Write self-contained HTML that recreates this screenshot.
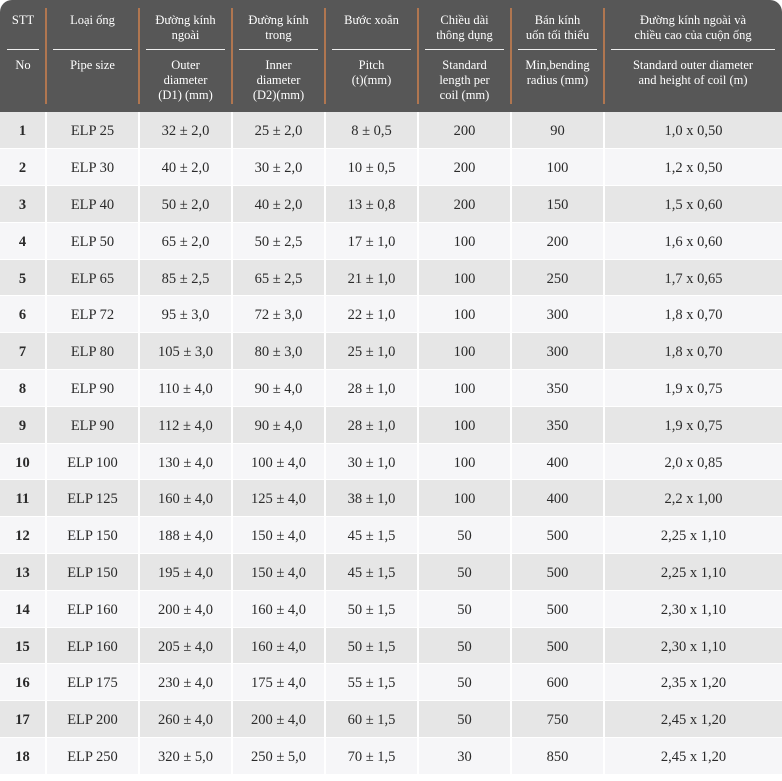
<!DOCTYPE html>
<html><head><meta charset="utf-8"><style>
body{margin:0;background:#fff;width:782px;height:781px;overflow:hidden;font-family:"Liberation Serif",serif;}
.hd{position:absolute;left:0;top:0;width:782px;height:112px;background:#575757;border-radius:12px 12px 0 0;}
.hc{position:absolute;top:0;height:112px;color:#fff;font-size:12.5px;line-height:15px;text-align:center;}
.hc .a{position:absolute;left:0;right:0;top:13px;}
.hc .b{position:absolute;left:0;right:0;top:58px;}
.hc .ln{position:absolute;left:7px;right:7px;top:49px;height:1px;background:#eee;}
.vs{position:absolute;top:8px;width:2px;height:96px;background:#b07650;}
table{position:absolute;left:0;top:112px;border-collapse:collapse;table-layout:fixed;width:782px;}
tr{height:36.8px;}
td{height:35.8px;padding:2px 0 0 0;line-height:16px;text-align:center;font-size:14.5px;color:#2a2a2a;border-right:2px solid #fff;border-bottom:1px solid #fff;box-sizing:border-box;}
td:first-child{font-weight:bold;}
tr:nth-child(odd) td{background:#e6e6e6;}
tr:nth-child(even) td{background:#f6f6f8;}
td:last-child{border-right:0;}
</style></head><body>
<div class="hd"></div>
<div class="hc" style="left:0;width:46px"><div class="a">STT</div><div class="ln"></div><div class="b">No</div></div>
<div class="hc" style="left:46px;width:93px"><div class="a">Loại ống</div><div class="ln"></div><div class="b">Pipe size</div></div>
<div class="hc" style="left:139px;width:93px"><div class="a">Đường kính<br>ngoài</div><div class="ln"></div><div class="b">Outer<br>diameter<br>(D1) (mm)</div></div>
<div class="hc" style="left:232px;width:93px"><div class="a">Đường kính<br>trong</div><div class="ln"></div><div class="b">Inner<br>diameter<br>(D2)(mm)</div></div>
<div class="hc" style="left:325px;width:93px"><div class="a">Bước xoắn</div><div class="ln"></div><div class="b">Pitch<br>(t)(mm)</div></div>
<div class="hc" style="left:418px;width:93px"><div class="a">Chiều dài<br>thông dụng</div><div class="ln"></div><div class="b">Standard<br>length per<br>coil (mm)</div></div>
<div class="hc" style="left:511px;width:93px"><div class="a">Bán kính<br>uốn tối thiểu</div><div class="ln"></div><div class="b">Min,bending<br>radius (mm)</div></div>
<div class="hc" style="left:604px;width:178px"><div class="a">Đường kính ngoài và<br>chiều cao của cuộn ống</div><div class="ln"></div><div class="b">Standard outer diameter<br>and height of coil (m)</div></div>
<div class="vs" style="left:45px"></div><div class="vs" style="left:138px"></div><div class="vs" style="left:231px"></div><div class="vs" style="left:324px"></div><div class="vs" style="left:417px"></div><div class="vs" style="left:510px"></div><div class="vs" style="left:603px"></div>
<table>
<colgroup><col style="width:46px"><col style="width:93px"><col style="width:93px"><col style="width:93px"><col style="width:93px"><col style="width:93px"><col style="width:93px"><col style="width:178px"></colgroup>
<tr><td>1</td><td>ELP 25</td><td>32 ± 2,0</td><td>25 ± 2,0</td><td>8 ± 0,5</td><td>200</td><td>90</td><td>1,0 x 0,50</td></tr>
<tr><td>2</td><td>ELP 30</td><td>40 ± 2,0</td><td>30 ± 2,0</td><td>10 ± 0,5</td><td>200</td><td>100</td><td>1,2 x 0,50</td></tr>
<tr><td>3</td><td>ELP 40</td><td>50 ± 2,0</td><td>40 ± 2,0</td><td>13 ± 0,8</td><td>200</td><td>150</td><td>1,5 x 0,60</td></tr>
<tr><td>4</td><td>ELP 50</td><td>65 ± 2,0</td><td>50 ± 2,5</td><td>17 ± 1,0</td><td>100</td><td>200</td><td>1,6 x 0,60</td></tr>
<tr><td>5</td><td>ELP 65</td><td>85 ± 2,5</td><td>65 ± 2,5</td><td>21 ± 1,0</td><td>100</td><td>250</td><td>1,7 x 0,65</td></tr>
<tr><td>6</td><td>ELP 72</td><td>95 ± 3,0</td><td>72 ± 3,0</td><td>22 ± 1,0</td><td>100</td><td>300</td><td>1,8 x 0,70</td></tr>
<tr><td>7</td><td>ELP 80</td><td>105 ± 3,0</td><td>80 ± 3,0</td><td>25 ± 1,0</td><td>100</td><td>300</td><td>1,8 x 0,70</td></tr>
<tr><td>8</td><td>ELP 90</td><td>110 ± 4,0</td><td>90 ± 4,0</td><td>28 ± 1,0</td><td>100</td><td>350</td><td>1,9 x 0,75</td></tr>
<tr><td>9</td><td>ELP 90</td><td>112 ± 4,0</td><td>90 ± 4,0</td><td>28 ± 1,0</td><td>100</td><td>350</td><td>1,9 x 0,75</td></tr>
<tr><td>10</td><td>ELP 100</td><td>130 ± 4,0</td><td>100 ± 4,0</td><td>30 ± 1,0</td><td>100</td><td>400</td><td>2,0 x 0,85</td></tr>
<tr><td>11</td><td>ELP 125</td><td>160 ± 4,0</td><td>125 ± 4,0</td><td>38 ± 1,0</td><td>100</td><td>400</td><td>2,2 x 1,00</td></tr>
<tr><td>12</td><td>ELP 150</td><td>188 ± 4,0</td><td>150 ± 4,0</td><td>45 ± 1,5</td><td>50</td><td>500</td><td>2,25 x 1,10</td></tr>
<tr><td>13</td><td>ELP 150</td><td>195 ± 4,0</td><td>150 ± 4,0</td><td>45 ± 1,5</td><td>50</td><td>500</td><td>2,25 x 1,10</td></tr>
<tr><td>14</td><td>ELP 160</td><td>200 ± 4,0</td><td>160 ± 4,0</td><td>50 ± 1,5</td><td>50</td><td>500</td><td>2,30 x 1,10</td></tr>
<tr><td>15</td><td>ELP 160</td><td>205 ± 4,0</td><td>160 ± 4,0</td><td>50 ± 1,5</td><td>50</td><td>500</td><td>2,30 x 1,10</td></tr>
<tr><td>16</td><td>ELP 175</td><td>230 ± 4,0</td><td>175 ± 4,0</td><td>55 ± 1,5</td><td>50</td><td>600</td><td>2,35 x 1,20</td></tr>
<tr><td>17</td><td>ELP 200</td><td>260 ± 4,0</td><td>200 ± 4,0</td><td>60 ± 1,5</td><td>50</td><td>750</td><td>2,45 x 1,20</td></tr>
<tr><td>18</td><td>ELP 250</td><td>320 ± 5,0</td><td>250 ± 5,0</td><td>70 ± 1,5</td><td>30</td><td>850</td><td>2,45 x 1,20</td></tr>
</table>
</body></html>
